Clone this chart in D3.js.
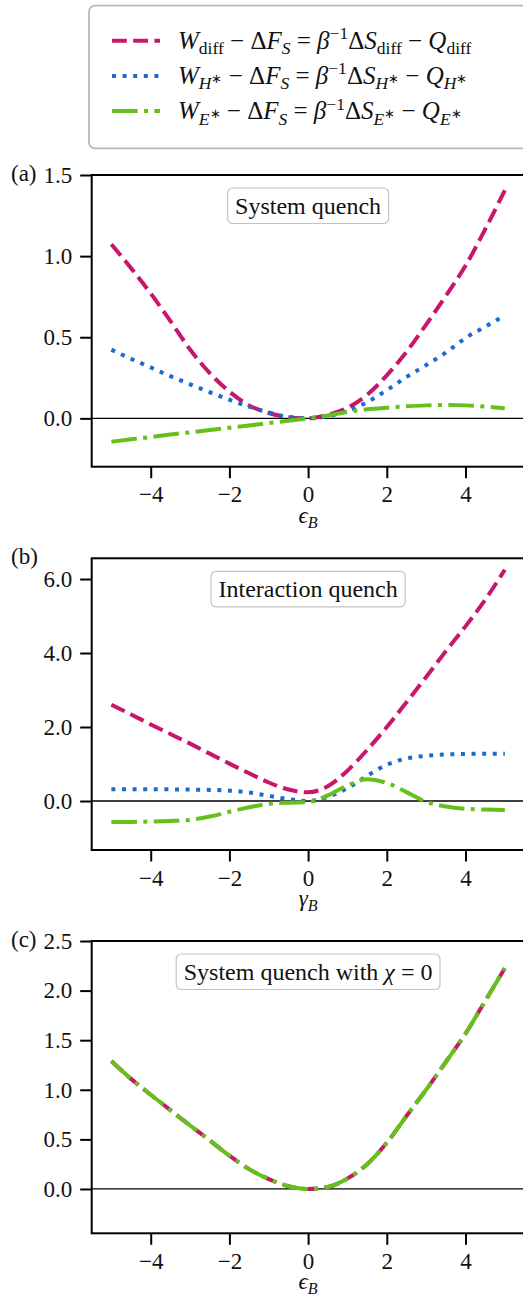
<!DOCTYPE html>
<html>
<head>
<meta charset="utf-8">
<script src="https://cdn.jsdelivr.net/npm/d3@7"></script>
<style>
  body { margin: 0; background: #fff; }
</style>
</head>
<body>
<div id="chart"></div>
<script>
// shared x grid (epsilon_B / gamma_B)
var xs = [-5, -4.5, -4, -3.5, -3, -2.5, -2, -1.5, -1, -0.5, 0, 0.5, 1, 1.5, 2, 2.5, 3, 3.5, 4, 4.5, 5];

// (a) system quench
var diffA = [1.073, 0.926, 0.77, 0.60, 0.424, 0.279, 0.165, 0.08, 0.033, 0.007, 0, 0.022, 0.065, 0.145, 0.265, 0.41, 0.578, 0.755, 0.94, 1.165, 1.405];
var hA    = [0.423, 0.367, 0.314, 0.26, 0.21, 0.161, 0.115, 0.072, 0.036, 0.009, 0, 0.012, 0.047, 0.10, 0.174, 0.255, 0.328, 0.405, 0.495, 0.565, 0.635];
var eA    = [-0.144, -0.129, -0.115, -0.100, -0.086, -0.072, -0.058, -0.044, -0.029, -0.015, 0, 0.018, 0.04, 0.056, 0.066, 0.074, 0.08, 0.082, 0.08, 0.073, 0.062];

// (b) interaction quench
var diffB = [2.60, 2.34, 2.07, 1.81, 1.55, 1.28, 1.01, 0.75, 0.50, 0.31, 0.235, 0.40, 0.82, 1.38, 2.00, 2.67, 3.35, 4.05, 4.72, 5.44, 6.25];
var hB    = [0.32, 0.32, 0.32, 0.315, 0.31, 0.30, 0.28, 0.23, 0.14, 0.05, 0.0, 0.11, 0.35, 0.68, 0.98, 1.15, 1.22, 1.26, 1.27, 1.28, 1.28];
var eB    = [-0.57, -0.565, -0.555, -0.54, -0.51, -0.42, -0.29, -0.17, -0.075, -0.045, -0.03, 0.15, 0.42, 0.585, 0.49, 0.24, -0.02, -0.15, -0.21, -0.23, -0.24];

// (c) system quench with chi = 0
var diffC = [1.29, 1.11, 0.95, 0.795, 0.64, 0.49, 0.335, 0.20, 0.10, 0.028, 0, 0.02, 0.105, 0.25, 0.465, 0.735, 1.0, 1.28, 1.565, 1.895, 2.225];
var eC    = [1.29, 1.11, 0.95, 0.795, 0.64, 0.49, 0.335, 0.20, 0.10, 0.028, 0, 0.02, 0.105, 0.25, 0.465, 0.735, 1.0, 1.28, 1.565, 1.895, 2.225];

var xTicks  = [-4, -2, 0, 2, 4];
var yTicksA = [0, 0.5, 1.0, 1.5];
var yTicksB = [0, 2, 4, 6];
var yTicksC = [0, 0.5, 1.0, 1.5, 2.0, 2.5];

var panelLabels = ["(a)", "(b)", "(c)"];

// math-ish labels: it = italic, sub = subscript, sup = superscript, ss = star on a subscript
var titleA = [{t: "System quench"}];
var titleB = [{t: "Interaction quench"}];
var titleC = [{t: "System quench with "}, {t: "χ", it: 1}, {t: " = 0"}];
var xLabelEps = [{t: "ϵ", it: 1}, {t: "B", it: 1, sub: 1}];
var xLabelGam = [{t: "γ", it: 1}, {t: "B", it: 1, sub: 1}];

var seriesNames = [
  [{t: "W", it: 1}, {t: "diff", sub: 1}, {t: " − Δ"}, {t: "F", it: 1}, {t: "S", it: 1, sub: 1}, {t: " = "}, {t: "β", it: 1}, {t: "−1", sup: 1}, {t: "Δ"}, {t: "S", it: 1}, {t: "diff", sub: 1}, {t: " − "}, {t: "Q", it: 1}, {t: "diff", sub: 1}],
  [{t: "W", it: 1}, {t: "H", it: 1, sub: 1}, {t: "∗", ss: 1}, {t: " − Δ"}, {t: "F", it: 1}, {t: "S", it: 1, sub: 1}, {t: " = "}, {t: "β", it: 1}, {t: "−1", sup: 1}, {t: "Δ"}, {t: "S", it: 1}, {t: "H", it: 1, sub: 1}, {t: "∗", ss: 1}, {t: " − "}, {t: "Q", it: 1}, {t: "H", it: 1, sub: 1}, {t: "∗", ss: 1}],
  [{t: "W", it: 1}, {t: "E", it: 1, sub: 1}, {t: "∗", ss: 1}, {t: " − Δ"}, {t: "F", it: 1}, {t: "S", it: 1, sub: 1}, {t: " = "}, {t: "β", it: 1}, {t: "−1", sup: 1}, {t: "Δ"}, {t: "S", it: 1}, {t: "E", it: 1, sub: 1}, {t: "∗", ss: 1}, {t: " − "}, {t: "Q", it: 1}, {t: "E", it: 1, sub: 1}, {t: "∗", ss: 1}]
];
var colors = ["#c8176a", "#1a6bcc", "#64c01b"];
var dashes = ["14.8,6.4", "4,6.6", "25.6,6.4,4,6.4"];

var W = 523, H = 1298;
var left = 91.7, right = 524.5;
var fs = 23;
var serif = '"Liberation Serif", "Times New Roman", serif';

var svg = d3.select("#chart").append("svg")
    .attr("width", W).attr("height", H)
    .style("font-family", serif);
svg.append("rect").attr("width", W).attr("height", H).attr("fill", "#fff");

function mathText(g, parts, size) {
  var t = g.append("text").style("font-size", size + "px")
    .style("font-family", serif).attr("fill", "#111");
  var shift = 0;
  parts.forEach(function(p) {
    var target = 0, s = size;
    if (p.sub) { target = 0.22 * size; s = 0.7 * size; }
    if (p.sup) { target = -0.38 * size; s = 0.7 * size; }
    if (p.ss)  { target = -0.04 * size; s = 0.5 * size; }
    t.append("tspan")
      .attr("dy", target - shift)
      .style("font-style", p.it ? "italic" : "normal")
      .style("font-size", s + "px")
      .text(p.t);
    shift = target;
  });
  return t;
}

var x = d3.scaleLinear().domain([-5.5, 5.5]).range([left, right]);

var panels = [
  {top: 175,   bottom: 466.7,  dom: [-0.298, 1.5],  ticks: yTicksA, ys: [diffA, hA, eA], which: [0, 1, 2], title: titleA, xl: xLabelEps},
  {top: 558.3, bottom: 850,    dom: [-1.324, 6.56], ticks: yTicksB, ys: [diffB, hB, eB], which: [0, 1, 2], title: titleB, xl: xLabelGam},
  {top: 941,   bottom: 1233.3, dom: [-0.447, 2.5],  ticks: yTicksC, ys: [diffC, eC],     which: [0, 2],    title: titleC, xl: xLabelEps}
];

panels.forEach(function(p, k) {
  var y = d3.scaleLinear().domain(p.dom).range([p.bottom, p.top]);
  var g = svg.append("g");

  // zero line
  g.append("line")
    .attr("x1", left).attr("x2", right)
    .attr("y1", y(0)).attr("y2", y(0))
    .attr("stroke", "#000").attr("stroke-width", 1.3);

  var line = d3.line()
      .x(function(d) { return x(d[0]); })
      .y(function(d) { return y(d[1]); })
      .curve(d3.curveMonotoneX);

  p.ys.forEach(function(vals, i) {
    var s = p.which[i];
    g.append("path")
      .attr("d", line(xs.map(function(v, j) { return [v, vals[j]]; })))
      .attr("fill", "none")
      .attr("stroke", colors[s])
      .attr("stroke-width", 4)
      .attr("stroke-dasharray", dashes[s]);
  });

  // axes
  var ax = g.append("g").attr("transform", "translate(0," + p.bottom + ")")
    .call(d3.axisBottom(x).tickValues(xTicks).tickSize(11.5).tickPadding(7.7).tickFormat(d3.format("d")));
  var ay = g.append("g").attr("transform", "translate(" + left + ",0)")
    .call(d3.axisLeft(y).tickValues(p.ticks).tickSize(11.5).tickPadding(8).tickFormat(d3.format(".1f")));
  [ax, ay].forEach(function(a) {
    a.attr("font-family", null).attr("font-size", null);
    a.select(".domain").remove();
    a.selectAll("line").attr("stroke", "#000").attr("stroke-width", 2);
    a.selectAll("text").style("font-size", fs + "px").style("font-family", serif).attr("fill", "#111");
  });
  g.append("rect")
    .attr("x", left).attr("y", p.top)
    .attr("width", right - left).attr("height", p.bottom - p.top)
    .attr("fill", "none").attr("stroke", "#000").attr("stroke-width", 2);

  // panel tag
  g.append("text").attr("x", 11).attr("y", p.top + 5.5)
    .style("font-size", fs + "px").style("font-family", serif).attr("fill", "#111")
    .text(panelLabels[k]);

  // x label
  mathText(g, p.xl, fs).attr("x", (left + right) / 2).attr("y", p.bottom + 56)
    .attr("text-anchor", "middle");

  // title box
  var cx = x(0);
  var boxTop = p.top + 13, boxH = 35.5;
  var tg = g.append("g");
  var rect = tg.append("rect");
  var tt = mathText(tg, p.title, 24).attr("x", cx).attr("y", boxTop + boxH / 2 + 8)
    .attr("text-anchor", "middle");
  var bb = tt.node().getBBox();
  rect.attr("x", bb.x - 7.5).attr("y", boxTop)
    .attr("width", bb.width + 15).attr("height", boxH)
    .attr("rx", 5).attr("fill", "#fff")
    .attr("stroke", "#c4c4c4").attr("stroke-width", 1.2);
});

// legend
var lg = svg.append("g");
lg.append("rect")
  .attr("x", 89).attr("y", 5.7).attr("width", 460).attr("height", 142.6)
  .attr("rx", 6).attr("fill", "#fff")
  .attr("stroke", "#b8b8b8").attr("stroke-width", 1.8);

var legFs = 25;
seriesNames.forEach(function(parts, i) {
  var cy = 40.7 + i * 35.2;
  lg.append("line")
    .attr("x1", 112).attr("x2", 160).attr("y1", cy).attr("y2", cy)
    .attr("stroke", colors[i]).attr("stroke-width", 4)
    .attr("stroke-dasharray", dashes[i]);
  mathText(lg, parts, legFs).attr("x", 178).attr("y", cy + 8);
});
</script>
</body>
</html>
